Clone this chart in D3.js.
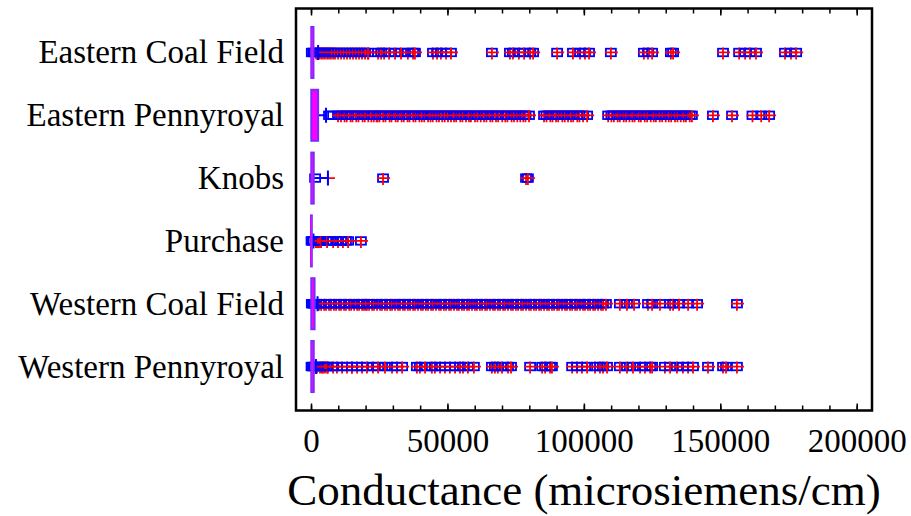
<!DOCTYPE html>
<html>
<head>
<meta charset="utf-8">
<script src="https://cdn.jsdelivr.net/npm/d3@7"></script>
<style>
  html, body { margin: 0; padding: 0; background: #fff; }
  svg { display: block; }
</style>
</head>
<body>
<svg id="chart" width="911" height="516"></svg>
<script>
// ---- data -------------------------------------------------------------
const regions = ["Eastern Coal Field", "Eastern Pennyroyal", "Knobs", "Purchase",
                 "Western Coal Field", "Western Pennyroyal"];

// box-and-whisker summary per region (microsiemens/cm)
const lowerQuartile = [100, 100, 100, 0, 100, 100];
const medians       = [400, 800, 400, 100, 500, 400];
const upperQuartile = [900, 2600, 1000, 300, 1300, 1000];
const whiskerLow    = [0, 0, 0, 0, 0, 0];
const whiskerHigh   = [2600, 5500, 6200, 900, 2400, 1800];
const means         = [21000, 24000, 6200, 1900, 20000, 15000];

// outside points (square only)
const outsideEasternCoalField = [300, 800, 1300];
const outsideEasternPennyroyal = [6600, 8100];
const outsideKnobs = [1500];
const outsidePurchase = [200, 600, 1000, 4400, 7000, 9200, 11000, 12800];
const outsideWesternCoalField = [300, 700, 1100, 1500, 2000];
const outsideWesternPennyroyal = [200, 600, 1000, 1400];

// far outside points (square with plus)
const farEasternCoalField = [1900, 2300, 3000, 3700, 4400, 5100, 5900, 6600, 7300, 8100, 8800,
  9900, 11000, 12100, 13200, 14300, 15400, 16500, 17600, 18700, 19800, 20900, 24600, 25700,
  26800, 28600, 30800, 33000, 35500, 37400, 38100, 44700, 46200, 47600, 49500, 51300, 66300,
  72900, 74000, 76200, 78100, 80300, 81400, 90200, 96000, 98600, 100400, 101900, 109900,
  122000, 123500, 125000, 131900, 132700, 151000, 156900, 159100, 160900, 163100, 173700,
  175900, 177800];

const farEasternPennyroyal = [9900, 11000, 12300, 13100, 14500, 15200, 16600, 17400, 18900,
  19700, 21000, 22100, 23000, 24400, 25100, 26500, 27300, 28800, 29500, 31000, 31800, 33200,
  34000, 35400, 36100, 37500, 38300, 39700, 40600, 41500, 42900, 43800, 44600, 46000, 46900,
  48100, 49000, 50200, 51300, 52400, 53200, 54700, 55500, 56800, 57900, 58600, 60100, 61000,
  62200, 63400, 64300, 65700, 66500, 67800, 68600, 70100, 71200, 72000, 73500, 74400, 75600,
  76700, 77800, 78600, 79900, 85400, 86300, 87700, 88500, 89800, 90600, 92100, 93000, 94200,
  95300, 96100, 97600, 98400, 99700, 101200, 108900, 110100, 111000, 112400, 113200, 114600,
  115500, 116700, 117800, 118600, 120100, 120900, 122300, 123200, 124500, 125600, 126400,
  127800, 128700, 130000, 131100, 132000, 133400, 134300, 135500, 136600, 137400, 138800,
  139600, 147300, 154300, 161800, 165000, 167900];

const farKnobs = [26400, 78800, 79500];

const farPurchase = [1800, 2200, 2600, 2900, 3300, 3700, 5900, 8100, 9900, 11700, 13600, 18300];

const farWesternCoalField = [2900, 3700, 4800, 5500, 6600, 7300, 8400, 9200, 10300, 11000,
  12100, 12800, 14000, 14700, 15800, 16900, 17600, 18700, 19400, 20500, 21300, 22400, 23100,
  24200, 25300, 26000, 27100, 27900, 29000, 29700, 30800, 31900, 32600, 33700, 34400, 35500,
  36300, 37400, 38100, 39200, 40300, 41000, 42100, 42900, 44000, 44700, 45800, 46900, 47600,
  48700, 49500, 50600, 51300, 52400, 53500, 54200, 55300, 56100, 57200, 57900, 59000, 60100,
  60800, 61900, 62700, 63800, 64500, 65600, 66700, 67400, 68500, 69300, 70400, 71100, 72200,
  73300, 74000, 75100, 75900, 77000, 77700, 78800, 79900, 80600, 81700, 82500, 83600, 84300,
  85400, 86500, 87200, 88300, 89100, 90200, 90900, 92000, 93100, 93800, 94900, 95700, 96800,
  97500, 98600, 99700, 100400, 101500, 102300, 103400, 104100, 105200, 106300, 107000, 108100,
  113200, 115800, 118400, 123500, 125000, 127900, 131600, 132700, 134900, 138200, 141500,
  156100];

const farWesternPennyroyal = [2200, 3300, 4000, 4400, 5100, 5900, 6200, 8100, 9500, 11400,
  13200, 15000, 16900, 18700, 20500, 22700, 24600, 27100, 29700, 31500, 33400, 38800, 39900,
  41800, 44300, 45400, 47300, 49100, 50900, 52800, 54600, 55700, 57500, 59700, 66300, 67400,
  68500, 70000, 72200, 73300, 80300, 84700, 85800, 87600, 88300, 95700, 97500, 99300, 101200,
  104100, 105900, 107000, 108500, 113200, 115800, 118000, 120600, 122400, 124300, 125000,
  129700, 131600, 134100, 136300, 138200, 140000, 145500, 151000, 152100, 156100];

const xMajorTicks = [0, 50000, 100000, 150000, 200000];
const xTitle = "Conductance (microsiemens/cm)";

// ---- assemble rows ----------------------------------------------------
const outsideByRegion = [outsideEasternCoalField, outsideEasternPennyroyal, outsideKnobs,
  outsidePurchase, outsideWesternCoalField, outsideWesternPennyroyal];
const farByRegion = [farEasternCoalField, farEasternPennyroyal, farKnobs, farPurchase,
  farWesternCoalField, farWesternPennyroyal];

const rows = regions.map((name, i) => ({
  name,
  q1: lowerQuartile[i], median: medians[i], q3: upperQuartile[i],
  lo: whiskerLow[i], hi: whiskerHigh[i], mean: means[i],
  outside: outsideByRegion[i], far: farByRegion[i]
}));

// ---- layout -----------------------------------------------------------
const plot = { left: 296, right: 872, top: 8.5, bottom: 410.5 };
const serif = "'Liberation Serif', 'Times New Roman', Times, serif";
const boxStroke = "#7030ff";
const boxFill = "#ff00ff";
const markBlue = "#0000ff";
const markRed = "#ff0000";

const svg = d3.select("#chart");

const x = d3.scaleLinear().domain([-5500, 205600]).range([plot.left, plot.right]);
const y = d3.scalePoint().domain(regions).range([plot.top, plot.bottom]).padding(0.7);

const boxH = 51, capH = 15;
const sqW = 10, sqH = 7.5;

// ---- rows -------------------------------------------------------------
const rowG = svg.append("g").selectAll("g.row").data(rows).join("g")
  .attr("class", "row")
  .attr("transform", d => `translate(0,${y(d.name)})`);

// mean marker (red plus)
rowG.append("path")
  .attr("d", d => { const cx = x(d.mean); return `M${cx - 6},0H${cx + 7}M${cx},-5V7`; })
  .attr("stroke", markRed).attr("stroke-width", 1.8).attr("fill", "none");

// outside points
rowG.selectAll("rect.out").data(d => d.outside).join("rect")
  .attr("class", "out")
  .attr("x", v => x(v) - sqW / 2).attr("y", -sqH / 2)
  .attr("width", sqW).attr("height", sqH)
  .attr("fill", "none").attr("stroke", markBlue).attr("stroke-width", 1.8);

// far outside points: square plus red cross
const farG = rowG.selectAll("g.far").data(d => d.far).join("g").attr("class", "far");
farG.append("rect")
  .attr("x", v => x(v) - sqW / 2).attr("y", -sqH / 2)
  .attr("width", sqW).attr("height", sqH)
  .attr("fill", "none").attr("stroke", markBlue).attr("stroke-width", 1.8);
farG.append("path")
  .attr("d", v => { const cx = x(v); return `M${cx - 6},0H${cx + 7}M${cx},-5V7`; })
  .attr("stroke", markRed).attr("stroke-width", 1.8).attr("fill", "none");

// whiskers
rowG.append("path")
  .attr("d", d => `M${x(d.lo)},0H${x(d.q1)}M${x(d.q3)},0H${x(d.hi)}` +
                  `M${x(d.hi)},${-capH / 2}V${capH / 2}`)
  .attr("stroke", markBlue).attr("stroke-width", 2).attr("fill", "none");

// box and median
rowG.append("rect")
  .attr("x", d => x(d.q1)).attr("y", -boxH / 2)
  .attr("width", d => Math.max(0.5, x(d.q3) - x(d.q1))).attr("height", boxH)
  .attr("fill", boxFill).attr("stroke", boxStroke).attr("stroke-width", 2);
rowG.append("line")
  .attr("x1", d => x(d.median)).attr("x2", d => x(d.median))
  .attr("y1", -boxH / 2 + 1).attr("y2", boxH / 2 - 1)
  .attr("stroke", boxFill).attr("stroke-width", 1.2);

// ---- axes -------------------------------------------------------------
const minorTicks = x.ticks(20);

function styleAxis(g) {
  g.select(".domain").remove();
  g.selectAll(".tick line").attr("stroke", "#000").attr("stroke-width", 1.5);
}

svg.append("g").attr("transform", `translate(0,${plot.bottom})`)
  .call(d3.axisBottom(x).tickValues(minorTicks).tickSizeInner(-5).tickSizeOuter(0).tickFormat(""))
  .call(styleAxis);
const bottomMajor = svg.append("g").attr("transform", `translate(0,${plot.bottom})`)
  .call(d3.axisBottom(x).tickValues(xMajorTicks).tickSizeInner(-7).tickSizeOuter(0)
    .tickFormat(d3.format("d")))
  .call(styleAxis);
bottomMajor.selectAll(".tick text")
  .attr("y", 41).attr("dy", null)
  .attr("fill", "#000")
  .style("font-family", serif).style("font-size", "33px");

svg.append("g").attr("transform", `translate(0,${plot.top})`)
  .call(d3.axisTop(x).tickValues(minorTicks).tickSizeInner(-5).tickSizeOuter(0).tickFormat(""))
  .call(styleAxis);
svg.append("g").attr("transform", `translate(0,${plot.top})`)
  .call(d3.axisTop(x).tickValues(xMajorTicks).tickSizeInner(-7).tickSizeOuter(0).tickFormat(""))
  .call(styleAxis);

// category labels
svg.append("g").selectAll("text").data(regions).join("text")
  .attr("x", 284).attr("y", d => y(d) + 11)
  .attr("text-anchor", "end")
  .attr("fill", "#000")
  .style("font-family", serif).style("font-size", "33px")
  .text(d => d);

// frame
svg.append("rect")
  .attr("x", plot.left).attr("y", plot.top)
  .attr("width", plot.right - plot.left).attr("height", plot.bottom - plot.top)
  .attr("fill", "none").attr("stroke", "#000").attr("stroke-width", 2.5);

// axis title
svg.append("text")
  .attr("x", (plot.left + plot.right) / 2).attr("y", 505)
  .attr("text-anchor", "middle")
  .attr("fill", "#000")
  .style("font-family", serif).style("font-size", "45px")
  .text(xTitle);
</script>
</body>
</html>
